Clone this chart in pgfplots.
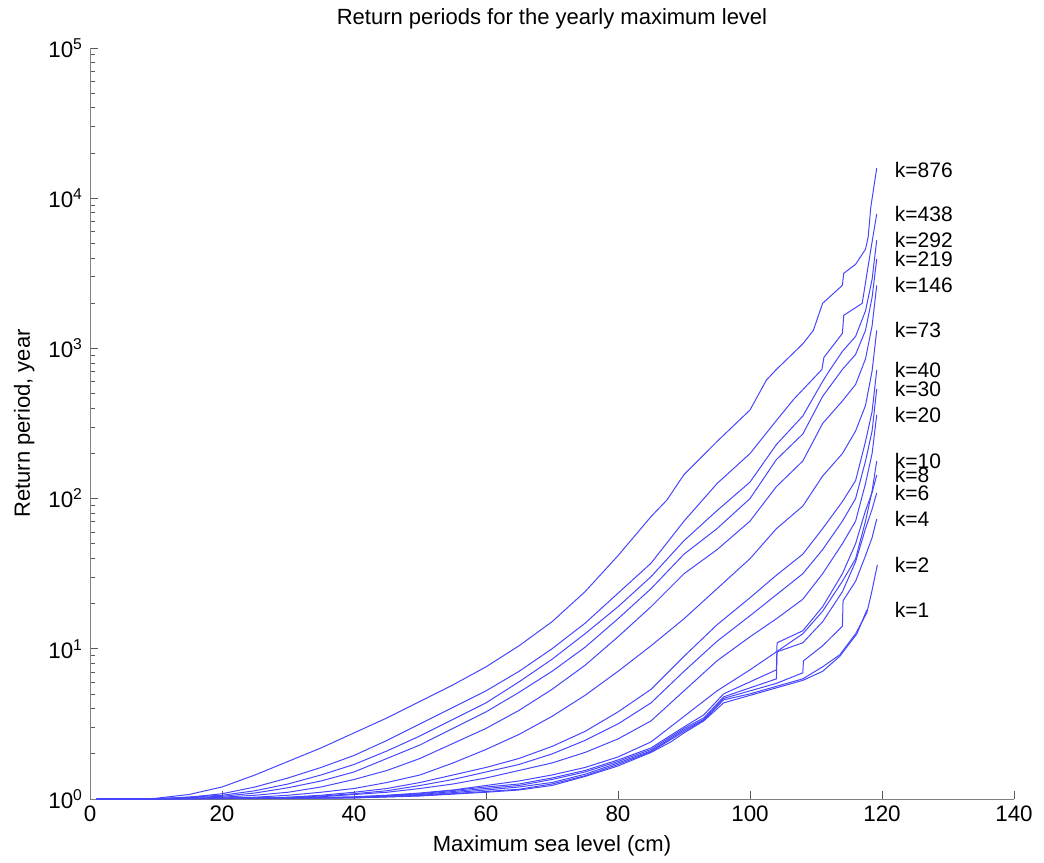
\documentclass[border=0pt]{standalone}
\usepackage{pgfplots}
\pgfplotsset{compat=1.18}
\usepackage{fontspec}
\setmainfont{Liberation Sans}
\definecolor{lineblue}{RGB}{70,70,255}
\pgfplotsset{kline/.style={lineblue, solid, mark=none, line width=0.5pt}}

\begin{document}
\begin{tikzpicture}
\begin{axis}[
    name=ax,
    scale only axis,
    width=462pt, height=375.5pt,
    xmin=0, xmax=140,
    ymin=1, ymax=100000,
    ymode=log,
    axis lines=left,
    axis line style={-, black!50},
    tick align=inside,
    every tick/.style={black!65},
    major tick length=4pt,
    minor tick length=2.5pt,
    xtick={0,20,...,140},
    ytick={1,10,100,1000,10000,100000},
    yticklabels={10\textsuperscript{0},10\textsuperscript{1},10\textsuperscript{2},10\textsuperscript{3},10\textsuperscript{4},10\textsuperscript{5}},
    /pgf/number format/assume math mode=true,
    tick label style={font=\fontsize{11.2}{13}\selectfont},
    label style={font=\fontsize{11}{13}\selectfont},
    title style={font=\fontsize{11}{13}\selectfont},
    title={Return periods for the yearly maximum level},
    xlabel={Maximum sea level (cm)},
    ylabel={Return period, year},
]
% k=876
\addplot[kline] table[y expr=10^(\thisrowno{1})] {
x L
1 0
8 0
10 0.005
15 0.03
20 0.08
25 0.16
30 0.25
35 0.34
40 0.44
45 0.54
50 0.65
55 0.76
60 0.88
65 1.02
70 1.18
75 1.38
80 1.62
85 1.88
87.4 1.99
90 2.16
95 2.38
100 2.59
102.5 2.79
104 2.86
108 3.03
109.6 3.12
111 3.30
114 3.42
114.2 3.50
116 3.56
117.5 3.66
117.9 3.74
118.3 3.94
119.2 4.20
};
% k=438
\addplot[kline] table[y expr=10^(\thisrowno{1})] {
x L
1 0
10 0.002
15 0.012
20 0.035
25 0.08
30 0.14
35 0.21
40 0.29
45 0.39
50 0.50
55 0.61
60 0.72
65 0.85
70 1.00
75 1.17
80 1.37
85 1.57
90 1.85
95 2.10
100 2.30
104 2.52
106.6 2.66
110.9 2.86
111.2 2.94
114 3.10
114.2 3.22
117 3.30
118.2 3.63
119.2 3.895
};
% k=292
\addplot[kline] table[y expr=10^(\thisrowno{1})] {
x L
1 0
10 0.001
20 0.025
25 0.055
30 0.10
35 0.16
40 0.23
45 0.32
50 0.42
55 0.53
60 0.64
65 0.78
70 0.93
75 1.10
80 1.28
85 1.48
90 1.72
95 1.92
100 2.11
104 2.36
108 2.55
111 2.78
112 2.85
114 2.98
116 3.08
117.5 3.25
118.5 3.46
119.2 3.72
};
% k=219
\addplot[kline] table[y expr=10^(\thisrowno{1})] {
x L
1 0
10 0.001
20 0.018
25 0.04
30 0.075
35 0.12
40 0.18
45 0.27
50 0.36
55 0.47
60 0.58
65 0.71
70 0.85
75 1.01
80 1.20
85 1.40
90 1.63
95 1.80
100 2.00
104 2.26
108 2.43
111 2.68
114 2.86
116 2.96
117.5 3.12
118.5 3.34
119.2 3.595
};
% k=146
\addplot[kline] table[y expr=10^(\thisrowno{1})] {
x L
1 0
15 0.004
20 0.012
25 0.025
30 0.045
35 0.08
40 0.13
45 0.19
50 0.27
55 0.37
60 0.47
65 0.59
70 0.73
75 0.89
80 1.08
85 1.28
90 1.50
95 1.66
100 1.85
104 2.08
108 2.25
111 2.50
114 2.65
116 2.76
117.5 2.93
118.5 3.15
119.2 3.42
};
% k=73
\addplot[kline] table[y expr=10^(\thisrowno{1})] {
x L
1 0
20 0.005
25 0.012
30 0.025
35 0.045
40 0.07
45 0.11
50 0.16
55 0.24
60 0.33
65 0.43
70 0.55
75 0.69
80 0.85
85 1.02
90 1.20
95 1.40
100 1.60
104 1.80
108 1.95
111 2.15
114 2.30
116 2.45
117.5 2.62
118.5 2.85
119.2 3.12
};
% k=40
\addplot[kline] table[y expr=10^(\thisrowno{1})] {
x L
1 0
25 0.006
30 0.012
35 0.025
40 0.045
45 0.07
50 0.11
55 0.16
60 0.21
65 0.27
70 0.35
75 0.45
80 0.58
85 0.73
90 0.95
95 1.16
100 1.34
104 1.49
108 1.63
111 1.80
114 1.98
116 2.12
117.5 2.38
118.5 2.58
119.2 2.856
};
% k=30
\addplot[kline] table[y expr=10^(\thisrowno{1})] {
x L
1 0
25 0.005
30 0.01
35 0.02
40 0.035
45 0.055
50 0.09
55 0.13
60 0.18
65 0.23
70 0.30
75 0.39
80 0.50
85 0.64
90 0.85
95 1.05
100 1.22
104 1.36
108 1.50
111 1.66
114 1.85
116 2.00
117.5 2.25
118.5 2.45
119.2 2.73
};
% k=20
\addplot[kline] table[y expr=10^(\thisrowno{1})] {
x L
1 0
30 0.008
35 0.015
40 0.03
45 0.045
50 0.07
55 0.10
60 0.14
65 0.19
70 0.24
75 0.31
80 0.40
85 0.52
90 0.72
95 0.92
100 1.08
104 1.20
108 1.33
111 1.50
114 1.70
116 1.85
117.5 2.10
118.5 2.30
119.2 2.557
};
% k=10
\addplot[kline] table[y expr=10^(\thisrowno{1})] {
x L
1 0
30 0.005
40 0.015
45 0.025
50 0.04
55 0.06
60 0.09
65 0.12
70 0.16
75 0.21
80 0.28
85 0.38
90 0.55
95 0.72
100 0.86
104 0.98
108 1.10
111 1.25
114 1.45
116 1.60
117.5 1.85
118.5 2.05
119.2 2.25
};
% k=8
\addplot[kline] table[y expr=10^(\thisrowno{1})] {
x L
1 0
30 0.004
40 0.012
50 0.035
60 0.08
65 0.10
70 0.14
75 0.19
80 0.26
85 0.34
90 0.48
93 0.56
96 0.70
100 0.78
104 0.86
104.1 1.04
108 1.12
111 1.28
114 1.50
116 1.70
117.5 1.92
118.5 2.04
119.2 2.157
};
% k=6
\addplot[kline] table[y expr=10^(\thisrowno{1})] {
x L
1 0
40 0.01
50 0.03
60 0.07
65 0.09
70 0.13
75 0.18
80 0.25
85 0.33
90 0.47
93 0.54
96 0.68
100 0.74
104 0.80
104.1 0.98
108 1.04
111 1.18
114 1.38
116 1.58
117.5 1.80
118.5 1.93
119.2 2.037
};
% k=4
\addplot[kline] table[y expr=10^(\thisrowno{1})] {
x L
1 0
40 0.009
50 0.025
60 0.06
65 0.08
70 0.11
75 0.165
80 0.24
85 0.32
90 0.46
93 0.53
96 0.67
100 0.72
104 0.77
108 0.84
108.1 0.92
111 1.02
114 1.15
114.1 1.32
116 1.45
117.5 1.62
118.5 1.74
119.2 1.864
};
% k=2
\addplot[kline] table[y expr=10^(\thisrowno{1})] {
x L
1 0
40 0.008
50 0.022
60 0.05
65 0.065
70 0.10
75 0.155
80 0.23
85 0.315
90 0.45
93 0.525
96 0.66
100 0.70
104 0.75
108 0.80
111 0.88
113.6 0.96
116 1.10
117.7 1.24
118.4 1.37
119.3 1.56
};
% k=1
\addplot[kline] table[y expr=10^(\thisrowno{1})] {
x L
1 0
40 0.007
50 0.02
60 0.045
65 0.06
70 0.09
75 0.15
80 0.22
85 0.31
88 0.38
90 0.44
93 0.52
96 0.64
100 0.69
104 0.74
108 0.79
111 0.85
113.6 0.95
116.2 1.10
117.7 1.258
};
\begin{scope}[every node/.style={anchor=west, inner sep=0pt, font=\fontsize{10.5}{12}\selectfont}]
\node at (axis cs:121.9,15500) {k=876};
\node at (axis cs:121.9,7850) {k=438};
\node at (axis cs:121.9,5270) {k=292};
\node at (axis cs:121.9,3940) {k=219};
\node at (axis cs:121.9,2640) {k=146};
\node at (axis cs:121.9,1320) {k=73};
\node at (axis cs:121.9,718) {k=40};
\node at (axis cs:121.9,537) {k=30};
\node at (axis cs:121.9,360) {k=20};
\node at (axis cs:121.9,144) {k=8};
\node at (axis cs:121.9,178) {k=10};
\node at (axis cs:121.9,109) {k=6};
\node at (axis cs:121.9,73) {k=4};
\node at (axis cs:121.9,36) {k=2};
\node at (axis cs:121.9,18.1) {k=1};
\end{scope}
\end{axis}
\path (ax.south west) ++(-45pt,-30.5pt) (ax.north east) ++(15pt,24pt);
\end{tikzpicture}
\end{document}
